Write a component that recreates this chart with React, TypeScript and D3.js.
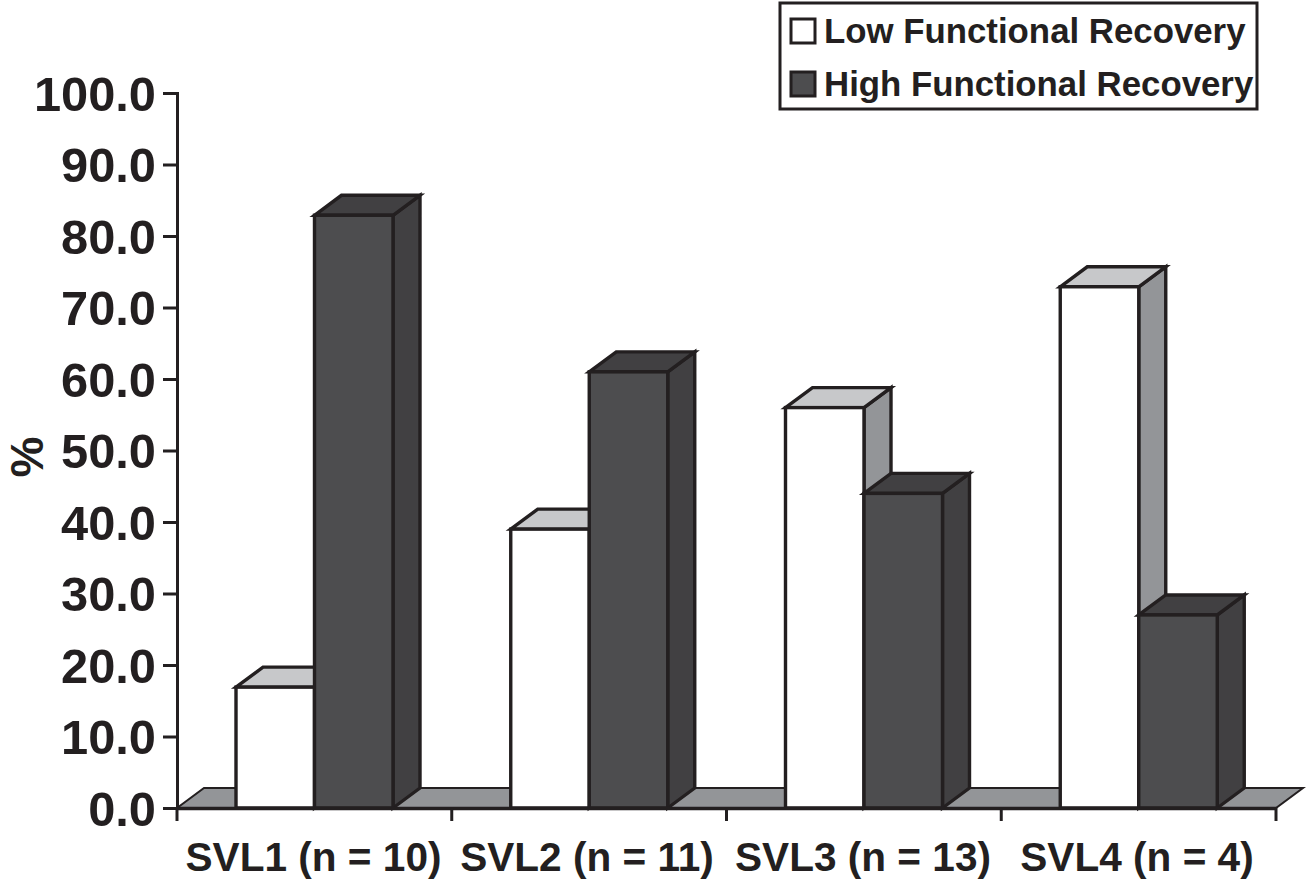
import React, { useEffect, useRef } from 'react';
import * as d3 from 'd3';

const categories = ['SVL1 (n = 10)', 'SVL2 (n = 11)', 'SVL3 (n = 13)', 'SVL4 (n = 4)'];
const seriesNames = ['Low Functional Recovery', 'High Functional Recovery'];
const lowValues = [16.9, 39.0, 56.0, 72.9];
const highValues = [82.9, 61.0, 44.0, 27.0];
const yTicks = [0, 10, 20, 30, 40, 50, 60, 70, 80, 90, 100];

const INK = '#231f20';
const FONT = '"Liberation Sans", Arial, sans-serif';
const DX = 27; // depth of the fake 3d
const DY = 20;

const faces = [
  { front: '#ffffff', top: '#c7c8ca', side: '#939598' },
  { front: '#4d4d4f', top: '#414042', side: '#414042' },
];

export default function App() {
  const ref = useRef<SVGSVGElement | null>(null);

  useEffect(() => {
    if (!ref.current) return;
    const svg = d3.select(ref.current);
    svg.selectAll('*').remove();

    const x = d3.scaleBand<string>().domain(categories).range([177, 1276]);
    const inner = d3.scaleBand<string>().domain(seriesNames).range([59, 216]);
    const y = d3.scaleLinear().domain([0, 100]).range([808, 93]);

    // floor of the 3d plot
    svg.append('path')
      .attr('d', `M177,${y(0)}L${177 + DX},${y(0) - DY}H${1276 + DX}L1276,${y(0)}Z`)
      .attr('fill', faces[0].side)
      .attr('stroke', INK)
      .attr('stroke-width', 2);

    const bars = categories.flatMap((c, i) => [
      { c, s: 0, v: lowValues[i] },
      { c, s: 1, v: highValues[i] },
    ]);

    const bar = svg.append('g')
      .attr('stroke', INK)
      .attr('stroke-width', 3.4)
      .attr('stroke-linejoin', 'miter')
      .selectAll('g')
      .data(bars)
      .join('g');

    const x0 = (d: any) => (x(d.c) as number) + (inner(seriesNames[d.s]) as number);
    const x1 = (d: any) => x0(d) + inner.bandwidth();

    bar.append('path')
      .attr('fill', d => faces[d.s].side)
      .attr('d', d => `M${x1(d)},${y(0)}V${y(d.v)}l${DX},${-DY}V${y(0) - DY}Z`);
    bar.append('path')
      .attr('fill', d => faces[d.s].top)
      .attr('d', d => `M${x0(d)},${y(d.v)}l${DX},${-DY}H${x1(d) + DX}L${x1(d)},${y(d.v)}Z`);
    bar.append('rect')
      .attr('x', d => x0(d))
      .attr('y', d => y(d.v))
      .attr('width', inner.bandwidth())
      .attr('height', d => y(0) - y(d.v))
      .attr('fill', d => faces[d.s].front);

    // axes
    const yAxis = svg.append('g')
      .attr('transform', 'translate(177,0)')
      .call(d3.axisLeft(y).tickValues(yTicks).tickFormat(d3.format('.1f') as any).tickSize(14).tickPadding(7));
    yAxis.selectAll('path,line').attr('stroke', INK).attr('stroke-width', 3);
    yAxis.selectAll('text')
      .attr('fill', INK)
      .style('font', `bold 48.8px ${FONT}`)
      .attr('dy', '0.35em');

    const xAxis = svg.append('g')
      .attr('transform', `translate(0,${y(0)})`)
      .call(d3.axisBottom(x).tickValues([]).tickSizeOuter(0));
    xAxis.selectAll('path').attr('stroke', INK).attr('stroke-width', 3.4);
    xAxis.selectAll('line.edge')
      .data(d3.range(categories.length + 1))
      .join('line')
      .attr('class', 'edge')
      .attr('x1', i => 177 + i * x.bandwidth())
      .attr('x2', i => 177 + i * x.bandwidth())
      .attr('y1', 0)
      .attr('y2', 13)
      .attr('stroke', INK)
      .attr('stroke-width', 3);

    svg.append('g').selectAll('text')
      .data(categories)
      .join('text')
      .attr('x', (_, i) => [313.5, 587, 863, 1137][i])
      .attr('y', 871)
      .attr('text-anchor', 'middle')
      .attr('fill', INK)
      .style('font', `bold 40.6px ${FONT}`)
      .text(d => d);

    svg.append('text')
      .attr('transform', 'translate(43,457) rotate(-90)')
      .attr('text-anchor', 'middle')
      .attr('fill', INK)
      .style('font', `bold 46px ${FONT}`)
      .text('%');

    // legend
    const legend = svg.append('g');
    legend.append('rect')
      .attr('x', 780).attr('y', 3).attr('width', 477).attr('height', 106)
      .attr('fill', '#fff').attr('stroke', INK).attr('stroke-width', 3);
    seriesNames.forEach((name, i) => {
      const ly = 31 + i * 53;
      legend.append('rect')
        .attr('x', 791).attr('y', ly - 12).attr('width', 24).attr('height', 24)
        .attr('fill', faces[i].front).attr('stroke', INK).attr('stroke-width', 3);
      legend.append('text')
        .attr('x', 824).attr('y', ly + 12)
        .attr('fill', INK)
        .style('font', `bold 34.8px ${FONT}`)
        .text(name);
    });
  }, []);

  return (
    <svg
      ref={ref}
      width={1306}
      height={879}
      style={{ position: 'absolute', left: 0, top: 0, background: '#fff' }}
    />
  );
}
